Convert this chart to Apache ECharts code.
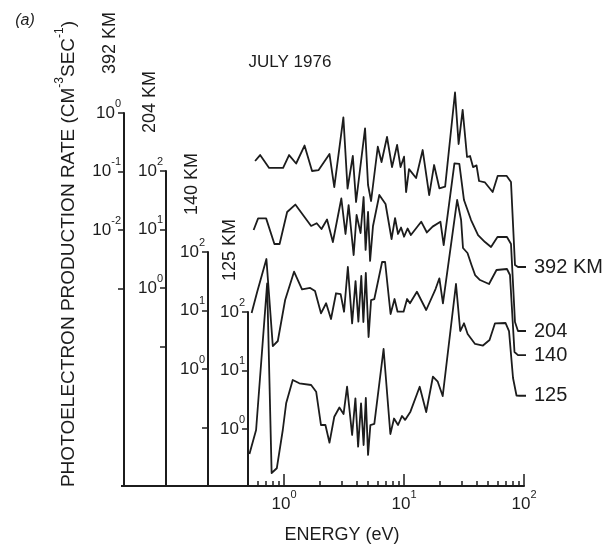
<!DOCTYPE html>
<html>
<head>
<meta charset="utf-8">
<title>Photoelectron production rate, July 1976</title>
<script src="https://cdn.jsdelivr.net/npm/echarts@6/dist/echarts.min.js"></script>
<style>
  html, body { margin: 0; padding: 0; background: #fff; }
  #chart { width: 607px; height: 545px; }
</style>
</head>
<body>
<div id="chart"></div>
<script>
// energy (eV) and photoelectron production rate (cm^-3 s^-1)
const energy392 = [0.573, 0.631, 0.750, 0.981, 1.10, 1.26, 1.48, 1.71, 1.94, 2.39, 2.62, 3.12, 3.38, 3.74, 3.98, 4.73, 5.01, 5.31, 6.04, 6.49, 7.21, 7.94, 8.75, 9.35, 10.0, 10.4, 11.0, 12.6, 14.3, 16.2, 17.8, 19.7, 22.0, 26.6, 28.5, 30.8, 33.5, 35.5, 37.6, 40.2, 42.2, 47.3, 54.8, 60.4, 71.5, 77.9, 84.1, 89.1, 107];
const rate392 = [0.151, 0.191, 0.115, 0.115, 0.191, 0.137, 0.278, 0.102, 0.106, 0.199, 0.0543, 0.838, 0.0512, 0.184, 0.0301, 0.548, 0.0588, 0.0313, 0.265, 0.145, 0.389, 0.119, 0.284, 0.119, 0.179, 0.0446, 0.110, 0.0774, 0.233, 0.0396, 0.129, 0.0516, 0.0550, 2.24, 0.295, 1.13, 0.177, 0.184, 0.119, 0.127, 0.0688, 0.0649, 0.0446, 0.0844, 0.0844, 0.0662, 0.00252, 0.00233, 0.00233];

const energy204 = [0.557, 0.607, 0.708, 0.830, 0.917, 1.06, 1.24, 1.68, 1.87, 2.05, 2.28, 2.55, 3.00, 3.25, 3.45, 3.80, 4.02, 4.34, 4.60, 4.78, 5.01, 5.21, 5.51, 6.22, 7.01, 7.87, 8.41, 8.91, 9.44, 10.0, 10.7, 11.4, 13.9, 15.5, 17.3, 20.1, 21.4, 26.3, 28.9, 31.6, 36.2, 41.4, 47.3, 53.1, 60.1, 72.1, 77.9, 84.1, 89.1, 106];
const rate204 = [9.80, 15.5, 15.5, 5.65, 5.65, 19.9, 26.7, 11.5, 12.8, 10.2, 14.8, 6.11, 33.9, 8.38, 26.2, 3.66, 17.7, 8.71, 35.9, 4.47, 19.9, 2.90, 11.5, 38.9, 27.3, 6.88, 15.7, 8.38, 10.8, 7.53, 10.4, 8.05, 13.6, 8.89, 11.2, 13.6, 5.43, 135, 132, 31.9, 14.5, 8.05, 6.11, 5.02, 7.45, 7.45, 5.65, 0.262, 0.184, 0.184];

const energy140 = [0.536, 0.596, 0.712, 0.805, 0.886, 1.02, 1.21, 1.41, 1.65, 1.81, 2.03, 2.24, 2.46, 2.71, 2.96, 3.16, 3.40, 3.69, 3.94, 4.16, 4.40, 4.58, 4.80, 5.06, 5.31, 5.65, 6.56, 6.95, 7.72, 8.33, 8.83, 9.91, 10.6, 11.2, 12.8, 15.3, 18.3, 19.7, 21.1, 27.7, 29.9, 31.0, 33.8, 36.5, 39.1, 43.0, 51.1, 59.0, 72.1, 76.4, 83.3, 89.1, 105];
const rate140 = [9.06, 20.7, 75.9, 2.47, 3.01, 15.1, 46.0, 22.9, 24.3, 21.5, 8.96, 13.3, 7.16, 19.7, 19.1, 9.53, 55.4, 6.04, 31.9, 6.44, 38.9, 6.36, 43.8, 3.52, 15.1, 15.7, 67.4, 67.4, 8.71, 15.7, 9.53, 9.53, 15.7, 13.3, 20.9, 10.2, 23.3, 35.5, 13.3, 774, 352, 117, 96.1, 60.0, 40.4, 33.2, 28.4, 49.2, 51.2, 40.4, 1.95, 1.73, 1.73];

const energy125 = [0.514, 0.584, 0.722, 0.787, 0.869, 0.975, 1.04, 1.18, 1.34, 1.68, 1.85, 2.03, 2.21, 2.39, 2.62, 2.89, 3.13, 3.35, 3.69, 3.93, 4.14, 4.38, 4.60, 4.80, 5.01, 5.24, 5.65, 6.75, 7.69, 8.25, 8.91, 9.62, 10.2, 11.3, 13.5, 15.3, 17.4, 19.1, 21.0, 27.1, 29.4, 31.6, 33.9, 39.1, 45.5, 51.6, 57.3, 70.1, 75.0, 81.0, 86.6, 91.7, 106];
const rate125 = [0.374, 0.961, 307, 0.177, 0.213, 0.961, 2.75, 6.88, 6.04, 5.65, 4.34, 1.17, 1.17, 0.583, 1.62, 2.33, 1.80, 5.28, 0.789, 3.35, 0.498, 2.75, 0.532, 3.39, 0.360, 1.17, 1.22, 23.3, 0.822, 1.51, 1.17, 1.67, 1.43, 1.98, 5.28, 1.95, 7.83, 6.44, 3.66, 301, 47.3, 64.1, 42.1, 28.4, 26.7, 33.2, 64.1, 64.9, 47.3, 7.45, 3.74, 3.70, 3.70];

const endLabels = ['392 KM', '204', '140', '125'];
const axisTitles = ['392 KM', '204 KM', '140 KM', '125 KM'];

// decades (powers of ten) that get a tick / a label on each altitude axis
const tickPowers = [[0, -1, -2, -3], [2, 1, 0, -1], [2, 1, 0, -1], [2, 1, 0]];
const labelPowers = [[0, -1, -2], [2, 1, 0], [2, 1, 0], [2, 1, 0]];

const energyMajorTicks = [1, 10, 100];
const energyMinorTicks = [0.5, 0.6, 0.7, 0.8, 0.9, 2, 3, 4, 5, 6, 7, 8, 9, 20, 30, 40, 50, 60, 70, 80, 90];

const traces = [
  [energy392, rate392],
  [energy204, rate204],
  [energy140, rate140],
  [energy125, rate125],
];

// layout: every trace shares the energy axis; each altitude has its own
// log axis, staggered to the left and starting at a different height
const W = 607, H = 545;
const GRID_LEFT = 248, GRID_RIGHT = 83, GRID_BOTTOM = 59;
const gridTops = [113, 171, 252, 312];
const axisOffsets = [124, 82, 40, 0];
const DECADE_PX = 58.5;

const INK = '#1c1c1c';
const FONT = "'Liberation Sans', Arial, sans-serif";

const powRich = {
  b: { fontSize: 17, lineHeight: 30, verticalAlign: 'middle', color: INK, fontFamily: FONT },
  s: { fontSize: 11, lineHeight: 13, verticalAlign: 'top', color: INK, fontFamily: FONT },
};

function powerLabel(value) {
  const p = Math.round(Math.log10(value));
  return '{b|10}{s|' + p + '}';
}

const pow10 = p => Math.pow(10, p);

const grids = gridTops.map(top => ({
  left: GRID_LEFT, right: GRID_RIGHT, top: top, bottom: GRID_BOTTOM,
}));

const yAxes = gridTops.map((top, i) => {
  const maxPow = tickPowers[i][0];
  const minPow = maxPow - (H - GRID_BOTTOM - top) / DECADE_PX;
  return {
    type: 'log',
    gridIndex: i,
    position: 'left',
    offset: axisOffsets[i],
    min: pow10(minPow),
    max: pow10(maxPow),
    axisLine: { show: true, lineStyle: { color: INK, width: 2 } },
    axisTick: {
      show: true, length: 6,
      customValues: tickPowers[i].map(pow10),
      lineStyle: { color: INK, width: 1.5 },
    },
    axisLabel: {
      show: true, margin: 3,
      customValues: labelPowers[i].map(pow10),
      formatter: powerLabel,
      rich: powRich,
    },
    minorTick: { show: false },
    splitLine: { show: false },
  };
});

const xAxes = gridTops.map((top, i) => ({
  type: 'log',
  gridIndex: i,
  position: 'bottom',
  min: 0.5,
  max: 100,
  show: i === 3,
  axisLine: { show: true, lineStyle: { color: INK, width: 2 } },
  axisTick: {
    show: true, inside: true, length: 5,
    customValues: energyMinorTicks.concat(energyMajorTicks),
    lineStyle: { color: INK, width: 1.5 },
  },
  axisLabel: { show: false },
  splitLine: { show: false },
}));

// longer decade ticks and their labels
xAxes.push({
  type: 'log',
  gridIndex: 3,
  position: 'bottom',
  min: 0.5,
  max: 100,
  axisLine: { show: false },
  axisTick: {
    show: true, inside: true, length: 12,
    customValues: energyMajorTicks,
    lineStyle: { color: INK, width: 1.5 },
  },
  axisLabel: {
    show: true, margin: 3,
    customValues: energyMajorTicks,
    formatter: powerLabel,
    rich: powRich,
  },
  splitLine: { show: false },
});

const series = traces.map((t, i) => ({
  type: 'line',
  name: endLabels[i],
  xAxisIndex: i,
  yAxisIndex: i,
  data: t[0].map((e, k) => [e, t[1][k]]),
  symbol: 'none',
  clip: false,
  silent: true,
  lineStyle: { color: INK, width: 1.8, join: 'round' },
  endLabel: {
    show: true, formatter: '{a}', distance: 8,
    fontSize: 20, color: INK, fontFamily: FONT,
  },
}));

function vText(text, x, y, size, rich) {
  return {
    type: 'text', x: x, y: y, rotation: Math.PI / 2, silent: true,
    style: {
      text: text, fill: INK, fontSize: size, fontFamily: FONT, rich: rich,
      align: 'center', verticalAlign: 'middle',
      textAlign: 'center', textVerticalAlign: 'middle',
    },
  };
}

const titleRich = {
  b: { fontSize: 19, lineHeight: 30, verticalAlign: 'middle', color: INK, fontFamily: FONT },
  s: { fontSize: 12, lineHeight: 14, verticalAlign: 'top', color: INK, fontFamily: FONT },
};

const axisTitleCenters = [[110, 43], [150, 102], [192, 184], [230, 250]];

const graphics = [
  {
    type: 'text', x: 25, y: 21, silent: true,
    style: {
      text: '(a)', fill: INK, fontSize: 16, fontStyle: 'italic', fontFamily: FONT,
      align: 'center', verticalAlign: 'middle', textAlign: 'center', textVerticalAlign: 'middle',
    },
  },
  vText('{b|PHOTOELECTRON PRODUCTION RATE (CM}{s|-3}{b|SEC}{s|-1}{b|)}', 69, 254, 19, titleRich),
  {
    type: 'text', x: 342, y: 535, silent: true,
    style: {
      text: 'ENERGY (eV)', fill: INK, fontSize: 18, fontFamily: FONT,
      align: 'center', verticalAlign: 'middle', textAlign: 'center', textVerticalAlign: 'middle',
    },
  },
  // the energy axis baseline carries on under the staggered rate axes
  {
    type: 'line', silent: true,
    shape: { x1: GRID_LEFT - axisOffsets[0] - 3, y1: H - GRID_BOTTOM, x2: GRID_LEFT, y2: H - GRID_BOTTOM },
    style: { stroke: INK, lineWidth: 2 },
  },
].concat(axisTitles.map((name, i) => vText(name, axisTitleCenters[i][0], axisTitleCenters[i][1], 18)));

const chart = echarts.init(document.getElementById('chart'));
chart.setOption({
  animation: false,
  backgroundColor: '#fff',
  title: {
    text: 'JULY 1976',
    left: 285, top: 49, textAlign: 'center',
    textStyle: { fontSize: 17, fontWeight: 'normal', color: INK, fontFamily: FONT },
  },
  grid: grids,
  xAxis: xAxes,
  yAxis: yAxes,
  series: series,
  graphic: graphics,
});
window.addEventListener('resize', () => chart.resize());
</script>
</body>
</html>
